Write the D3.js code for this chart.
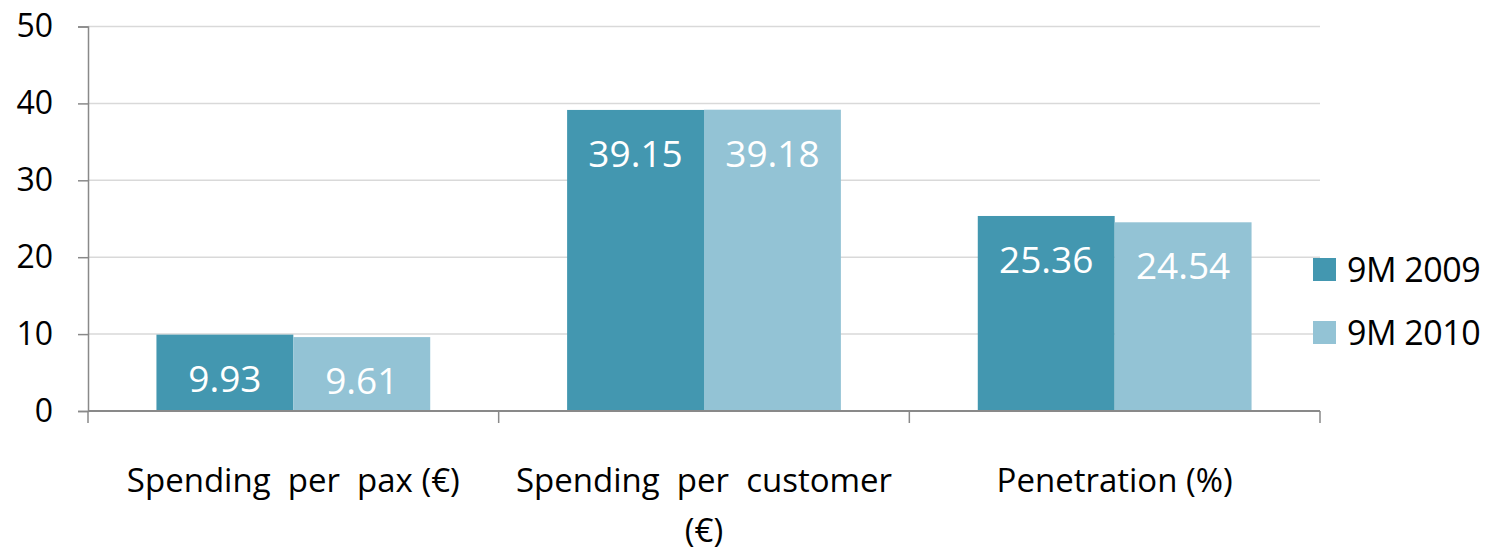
<!DOCTYPE html>
<html>
<head>
<meta charset="utf-8">
<script src="https://cdn.jsdelivr.net/npm/d3@7"></script>
<style>
  html, body { margin: 0; padding: 0; background: #fff; }
  svg { display: block; font-family: "Open Sans", "Noto Sans", sans-serif; }
</style>
</head>
<body>
<svg id="chart" width="1488" height="552"></svg>
<script>
// Categories (each entry is a list of label lines) and series values
const categories = ["Spending per pax (€)", "Spending per customer (€)", "Penetration (%)"];
const categoryLines = [["Spending  per  pax (€)"], ["Spending  per  customer", "(€)"], ["Penetration (%)"]];
const seriesNames = ["9M 2009", "9M 2010"];
const values2009 = [9.93, 39.15, 25.36];
const values2010 = [9.61, 39.18, 24.54];
const yTicks = [0, 10, 20, 30, 40, 50];
const colors = ["#4397B0", "#93C3D5"];

const seriesValues = [values2009, values2010];
const data = categories.map((c, i) => ({
  category: c,
  values: seriesNames.map((s, j) => ({ series: s, value: seriesValues[j][i] }))
}));

const svg = d3.select("#chart");
const plot = { left: 88, right: 1320, top: 26.5, bottom: 411 };

const y = d3.scaleLinear().domain([0, 50]).range([plot.bottom, plot.top]);
const x0 = d3.scaleBand().domain(categories).range([plot.left, plot.right]).paddingInner(0).paddingOuter(0);
const bw = x0.bandwidth();
const x1 = d3.scaleBand().domain(seriesNames).range([bw / 6, bw * 5 / 6]).padding(0);
const color = d3.scaleOrdinal().domain(seriesNames).range(colors);

// Horizontal gridlines
svg.append("g")
  .selectAll("line")
  .data(yTicks.filter(t => t > 0))
  .join("line")
  .attr("x1", plot.left).attr("x2", plot.right)
  .attr("y1", d => y(d)).attr("y2", d => y(d))
  .attr("stroke", "#d9d9d9").attr("stroke-width", 1.5);

// Y axis
const yAxis = svg.append("g")
  .attr("transform", `translate(${plot.left},0)`)
  .call(d3.axisLeft(y).tickValues(yTicks).tickSize(10).tickPadding(25).tickFormat(d3.format("d")));
yAxis.select(".domain").attr("stroke", "#898989").attr("stroke-width", 1.5);
yAxis.selectAll(".tick line").attr("stroke", "#898989").attr("stroke-width", 1.5);
yAxis.selectAll(".tick text")
  .attr("font-size", 32).attr("fill", "#000")
  .attr("font-family", "'Open Sans', sans-serif");

// Bars
const groups = svg.append("g")
  .selectAll("g")
  .data(data)
  .join("g")
  .attr("transform", d => `translate(${x0(d.category)},0)`);

groups.selectAll("rect")
  .data(d => d.values)
  .join("rect")
  .attr("x", d => x1(d.series))
  .attr("y", d => y(d.value))
  .attr("width", x1.bandwidth())
  .attr("height", d => y(0) - y(d.value))
  .attr("fill", d => color(d.series));

// Value labels inside the top of each bar
groups.selectAll("text")
  .data(d => d.values)
  .join("text")
  .attr("x", d => x1(d.series) + x1.bandwidth() / 2)
  .attr("y", d => y(d.value) + 57)
  .attr("text-anchor", "middle")
  .attr("font-size", 37)
  .attr("fill", "#fff")
  .text(d => d.value.toFixed(2));

// X axis with category boundary ticks
const xAxis = svg.append("g");
xAxis.append("line")
  .attr("x1", plot.left).attr("x2", plot.right)
  .attr("y1", y(0)).attr("y2", y(0))
  .attr("stroke", "#898989").attr("stroke-width", 2);
const boundaries = categories.map(c => x0(c)).concat([x0(categories[categories.length - 1]) + bw]);
xAxis.selectAll("line.tick")
  .data(boundaries)
  .join("line")
  .attr("class", "tick")
  .attr("x1", d => d).attr("x2", d => d)
  .attr("y1", y(0)).attr("y2", y(0) + 12)
  .attr("stroke", "#898989").attr("stroke-width", 1.5);

// Category labels
const catLabels = svg.append("g")
  .selectAll("text")
  .data(categories)
  .join("text")
  .attr("x", d => x0(d) + bw / 2)
  .attr("y", 492)
  .attr("text-anchor", "middle")
  .attr("font-size", 33)
  .attr("fill", "#000");
catLabels.each(function(d, i) {
  const t = d3.select(this);
  categoryLines[i].forEach((line, k) => {
    t.append("tspan")
      .attr("x", x0(d) + bw / 2)
      .attr("dy", k === 0 ? 0 : 50)
      .style("white-space", "pre")
      .text(line);
  });
});

// Legend
const legend = svg.append("g")
  .selectAll("g")
  .data(seriesNames)
  .join("g")
  .attr("transform", (d, i) => `translate(1313,${258 + i * 63})`);
legend.append("rect")
  .attr("width", 23).attr("height", 23)
  .attr("fill", d => color(d));
legend.append("text")
  .attr("x", 34).attr("y", 24)
  .attr("font-size", 34)
  .attr("fill", "#000")
  .attr("letter-spacing", -0.5)
  .text(d => d);
</script>
</body>
</html>
